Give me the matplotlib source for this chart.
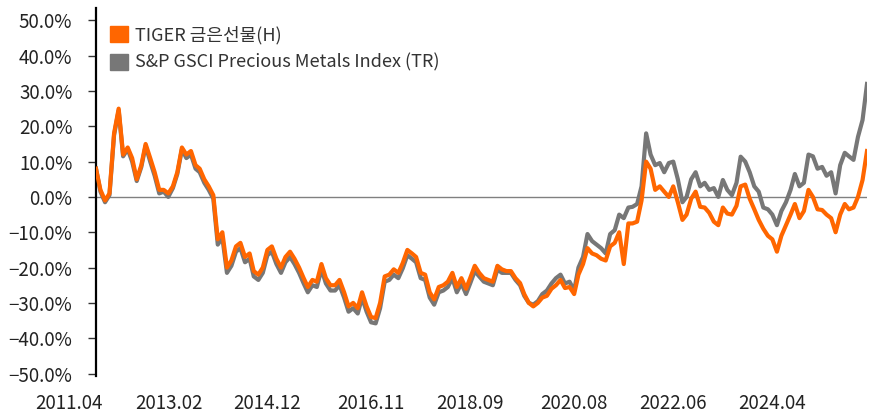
import pandas as pd
import matplotlib.pyplot as plt
import matplotlib.transforms as mtransforms
from matplotlib.patches import Patch
from matplotlib.ticker import FuncFormatter

# monthly readings (%), 2011.04 -> 2025.07
months = pd.date_range('2011-04-01', periods=172, freq='MS')

tiger = [
    8, 2, -1, 1, 18, 25, 12, 14, 11, 5,
    9, 15, 11, 7, 2, 2, 1, 3, 7, 14,
    12, 13, 9, 8, 5, 3, 0.5, -12, -10, -20,
    -18, -14, -13, -17, -16, -21, -22, -20, -15, -14,
    -17.5, -20, -17, -15.5, -17.5, -20, -23, -25.5, -23.5, -24,
    -19, -23, -25, -25, -23.5, -27, -31, -30, -31.5, -27,
    -31, -34, -34.3, -30, -22.5, -22, -20.5, -21.5, -18.7, -15,
    -16, -17, -21.5, -22, -27, -29, -25.5, -25, -24, -21.5,
    -25.5, -23, -26, -23, -19.5, -21.5, -23, -23.5, -24, -19.5,
    -20.5, -21, -21, -23, -24.4, -27.5, -30, -31, -30, -28.5,
    -28, -26, -25, -23.5, -25.8, -25.5, -27.5, -22, -19, -14.5,
    -16, -16.5, -17.5, -18, -14, -13, -10, -19, -7.5, -7.5,
    -7, -1, 10, 8, 2, 3, 1.5, 0, 3, -1.5,
    -6.5, -5, -0.5, 1.5, -2.8, -3, -4.5, -7, -8, -3,
    -4.7, -5, -2.5, 3, 3.5, -0.5, -3.5, -6.5, -9, -11,
    -12, -15.5, -11, -8, -5, -2, -6, -4, 2, 0,
    -3.5, -3.7, -5, -6, -10, -5, -2, -3.5, -3, 0,
    4.8, 13,
]

gsci = [
    8, 1.5, -1.5, 0.5, 17.5, 24.5, 11.5, 13.5, 10, 4.5,
    8.5, 14.5, 10, 6, 1, 1.5, 0, 2.5, 6.5, 13.5,
    11, 12, 8, 7, 4, 2, -0.5, -13.5, -11.5, -21.5,
    -19.5, -15.5, -14.5, -18.5, -17.5, -22.5, -23.5, -21.5, -16.5, -15.5,
    -19, -21.5, -18.5, -17, -19, -21.5, -24.5, -27, -25, -25.5,
    -20.5, -24.5, -26.5, -26.5, -25, -28.5, -32.5, -31.5, -33, -28.5,
    -32.5, -35.5, -35.8, -31.5, -24, -23.5, -22, -23, -20.2, -16.5,
    -17.5, -18.5, -23, -23.5, -28.5, -30.5, -27, -26.5, -25.5, -23,
    -27, -24.5, -27.5, -24.5, -21, -22.5, -24, -24.5, -25, -20.5,
    -21.5, -21.5, -21.5, -23.5, -25, -28, -30, -30.5, -29.5, -27.5,
    -26.5, -24.5, -23, -22, -24.5, -24, -26.5, -20, -17, -10.5,
    -12.5, -13.5, -14.5, -16, -10.5, -9.4, -5, -6, -3, -2.8,
    -2, 3, 18, 12, 9, 9.6, 7, 9.6, 10, 5,
    -1.5, 0, 5, 7, 3, 4, 2, 2.5, 0, 4.8,
    2, 0.5, 4, 11.4, 10, 7, 3, 1.5, -3, -3.5,
    -5, -8, -4, -1.5, 2, 6.5, 3, 4, 12, 11.5,
    8, 8.5, 6, 7, 1, 9, 12.5, 11.5, 10.5, 17,
    21.8, 32,
]

tick_dates = ['2011-04', '2013-02', '2014-12', '2016-11',
              '2018-09', '2020-08', '2022-06', '2024-04']
tick_labels = [d.replace('-', '.') for d in tick_dates]
y_ticks = [-50, -40, -30, -20, -10, 0, 10, 20, 30, 40, 50]

label_tiger = 'TIGER 금은선물(H)'
label_gsci = 'S&P GSCI Precious Metals Index (TR)'

ORANGE = '#ff6600'
GREY = '#777777'

plt.rcParams['font.family'] = ['Noto Sans CJK KR', 'DejaVu Sans']

fig = plt.figure(figsize=(8.81, 4.15), dpi=100)
ax = fig.add_axes([96 / 881, 1 - 376 / 415, 771 / 881, 368 / 415])

ax.axhline(0, color='#808080', lw=1.0, zorder=1)
ax.plot(months, gsci, color=GREY, lw=3.0, solid_joinstyle='round', zorder=2)
ax.plot(months, tiger, color=ORANGE, lw=3.0, solid_joinstyle='round', zorder=3)

ax.set_xlim(months[0], months[-1])
ax.set_ylim(-50.7, 53.5)

for side in ['top', 'right', 'bottom']:
    ax.spines[side].set_visible(False)
ax.spines['left'].set_linewidth(1.6)
ax.spines['left'].set_color('black')

ax.set_yticks(y_ticks)
ax.yaxis.set_major_formatter(FuncFormatter(lambda v, p: f'{v:.1f}%'.replace('-', '\u2212')))
ax.tick_params(axis='y', length=6, width=1, color='#333333', pad=11,
               labelsize=13.5, labelcolor='#222222')

ax.set_xticks(pd.to_datetime(tick_dates))
ax.set_xticklabels(tick_labels)
ax.tick_params(axis='x', length=0, pad=12, labelsize=13.5, labelcolor='#222222')
shift = mtransforms.ScaledTranslation(-27 / 100, 0, fig.dpi_scale_trans)
for lab in ax.get_xticklabels():
    lab.set_transform(lab.get_transform() + shift)

handles = [Patch(color=ORANGE), Patch(color=GREY)]
ax.legend(handles, [label_tiger, label_gsci], loc='upper left',
          bbox_to_anchor=(14 / 771, 1 - 18 / 368), frameon=False,
          fontsize=13, handlelength=1.0, handleheight=1.0,
          handletextpad=0.4, labelspacing=0.5, borderpad=0,
          borderaxespad=0, labelcolor='#333333')

fig.savefig('out.png', dpi=100)
